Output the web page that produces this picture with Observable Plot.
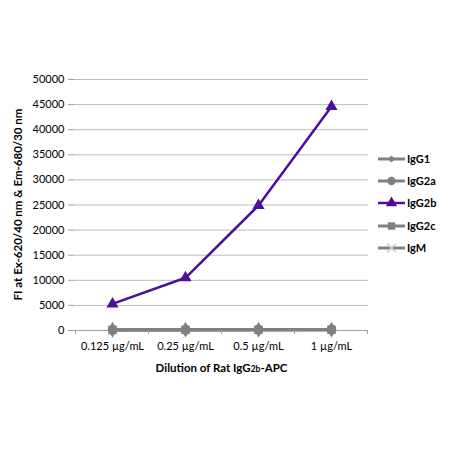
<!DOCTYPE html>
<html>
<head>
<meta charset="utf-8">
<script src="https://cdn.jsdelivr.net/npm/d3@7"></script>
<script src="https://cdn.jsdelivr.net/npm/@observablehq/plot@0.6"></script>
<style>
body { margin: 0; background: #fff; }
#chart { width: 450px; height: 450px; }
</style>
</head>
<body>
<div id="chart"></div>
<script>
const categories = ["0.125 µg/mL", "0.25 µg/mL", "0.5 µg/mL", "1 µg/mL"];
const seriesNames = ["IgG1", "IgG2a", "IgG2b", "IgG2c", "IgM"];
const IgG1 = [150, 160, 170, 180];
const IgG2a = [140, 150, 160, 170];
const IgG2b = [5300, 10500, 24900, 44600];
const IgG2c = [120, 130, 140, 150];
const IgM = [110, 120, 130, 140];
const yTicks = [0, 5000, 10000, 15000, 20000, 25000, 30000, 35000, 40000, 45000, 50000];

const seriesValues = { IgG1, IgG2a, IgG2b, IgG2c, IgM };
const colors = { IgG1: "#808080", IgG2a: "#808080", IgG2b: "#4b0f9a", IgG2c: "#808080", IgM: "#808080" };
const symbols = { IgG1: "diamond", IgG2a: "circle", IgG2b: "triangle", IgG2c: "square", IgM: "times" };
const drawOrder = ["IgM", "IgG2c", "IgG1", "IgG2a", "IgG2b"];

const rows = [];
for (const s of seriesNames) categories.forEach((c, i) => rows.push({ series: s, cat: c, value: seriesValues[s][i] }));

const font = "Lato, 'Open Sans', sans-serif";
const marks = [
  Plot.gridY(yTicks, { stroke: "#bdbdbd", strokeOpacity: 1, strokeWidth: 1 }),
  Plot.ruleY([0], { stroke: "#a0a0a0" }),
  Plot.ruleX([0], { stroke: "#a0a0a0", frameAnchor: "left" }),
];
for (const s of drawOrder) {
  const d = rows.filter(r => r.series === s);
  const gray = s !== "IgG2b";
  marks.push(Plot.line(d, { x: "cat", y: "value", stroke: colors[s], strokeWidth: gray ? 3 : 2.5 }));
  const isTimes = s === "IgM";
  marks.push(Plot.dot(d, { x: "cat", y: "value", symbol: () => symbols[s], fill: isTimes ? "none" : colors[s], stroke: isTimes ? "#c8c8c8" : "none", strokeWidth: 1.2, r: s === "IgG2b" ? 4.5 : (isTimes ? 3.5 : 4.8) }));
}

const plot = Plot.plot({
  width: 450,
  height: 450,
  marginLeft: 74,
  marginRight: 82,
  marginTop: 79,
  marginBottom: 120,
  style: { fontFamily: font, fontSize: "11px", color: "#000", background: "#fff" },
  symbol: { type: "identity" },
  x: { type: "point", domain: categories, padding: 0.5, label: null, tickSize: 0, tickPadding: 12 },
  y: { domain: [0, 50000], ticks: yTicks, label: null, tickSize: 6, tickPadding: 4, tickFormat: d => String(d) },
  marks
});

document.getElementById("chart").appendChild(plot);
const svg = d3.select(plot);

svg.selectAll("[aria-label='y-axis tick']").attr("stroke", "#a0a0a0");

// x band-boundary tick marks
const xs = categories.map(c => plot.scale("x").apply(c));
const step = xs[1] - xs[0];
const bounds = [xs[0] - step / 2, ...xs.map(x => x + step / 2)];
const y0 = plot.scale("y").apply(0);
svg.append("g").selectAll("line").data(bounds).join("line")
  .attr("x1", d => d).attr("x2", d => d).attr("y1", y0).attr("y2", y0 + 4)
  .attr("stroke", "#a0a0a0");

// axis titles
svg.append("text")
  .attr("transform", `translate(22,${(79 + y0) / 2}) rotate(-90)`)
  .attr("text-anchor", "middle").attr("font-weight", "bold").attr("font-size", 11.5)
  .attr("font-family", font)
  .text("FI at Ex-620/40 nm & Em-680/30 nm");

const xt = svg.append("text")
  .attr("x", (xs[0] - step / 2 + xs[3] + step / 2) / 2).attr("y", 372)
  .attr("text-anchor", "middle").attr("font-weight", "bold").attr("font-size", 11.5)
  .attr("font-family", font);
xt.append("tspan").text("Dilution of Rat IgG");
xt.append("tspan").attr("font-size", 8.5).text("2b");
xt.append("tspan").text("-APC");

// legend
const lg = svg.append("g").attr("text-anchor", "start");
const ly = [159, 181, 203, 226, 248];
seriesNames.forEach((s, i) => {
  const g = lg.append("g").attr("transform", `translate(0,${ly[i]})`);
  g.append("line").attr("x1", 378).attr("x2", 405).attr("stroke", colors[s]).attr("stroke-width", s === "IgG2b" ? 2.5 : 3);
  const sym = d3.symbol().type({ diamond: d3.symbolDiamond2, circle: d3.symbolCircle, triangle: d3.symbolTriangle, square: d3.symbolSquare, times: d3.symbolTimes }[symbols[s]]).size(s === "IgG1" ? 30 : 55)();
  g.append("path").attr("d", sym).attr("transform", "translate(391.5,0)")
    .attr("fill", symbols[s] === "times" ? "none" : colors[s])
    .attr("stroke", symbols[s] === "times" ? "#d0d0d0" : "none").attr("stroke-width", 1.5);
  g.append("text").attr("x", 407).attr("y", 4).attr("text-anchor", "start").attr("font-weight", "bold").attr("font-size", 11)
    .attr("font-family", font).text(s);
});
</script>
</body>
</html>
